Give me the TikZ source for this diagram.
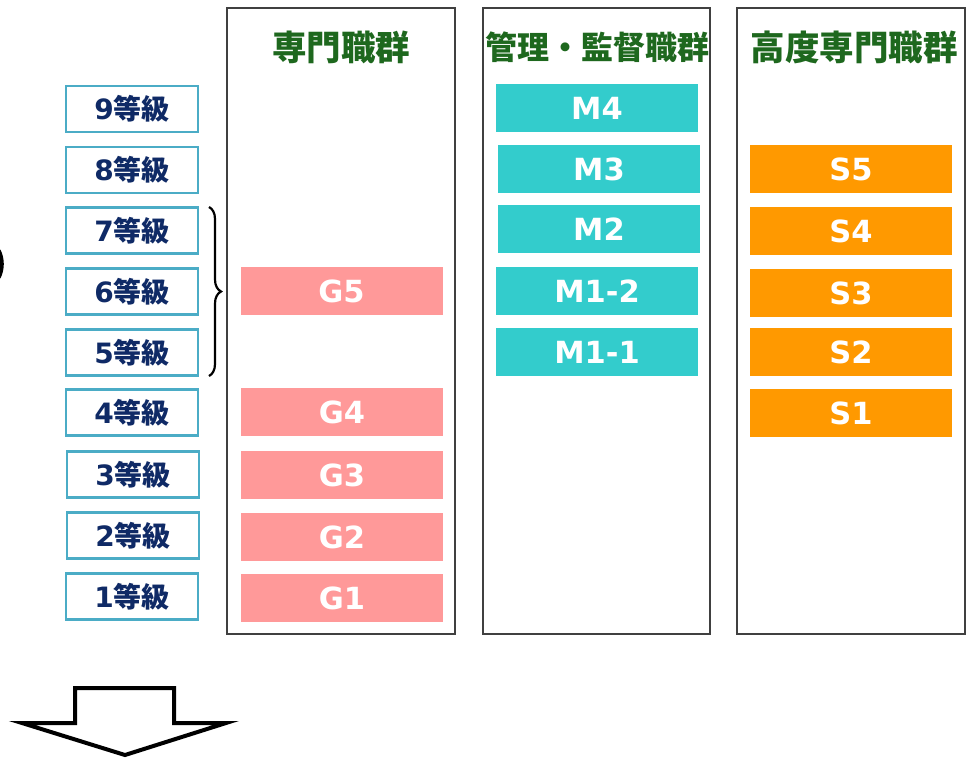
\documentclass[tikz,border=0pt]{standalone}
\usepackage{fontspec}
\setmainfont{DejaVu Sans}
\newfontfamily\cjk{Noto Sans CJK JP}
\usetikzlibrary{decorations.pathreplacing}
\definecolor{gradeblue}{HTML}{4BACC6}
\definecolor{navy}{HTML}{0F2A66}
\definecolor{hdrgreen}{RGB}{30,104,30}
\definecolor{gpink}{HTML}{FF9999}
\definecolor{mteal}{HTML}{33CCCC}
\definecolor{sorange}{HTML}{FF9900}
\definecolor{frame}{HTML}{404040}
\tikzset{
  gradebox/.style={draw=gradeblue, line width=2.2pt, fill=white, minimum width=132pt, minimum height=46pt, inner sep=0pt,
    font=\fontsize{28}{28}\selectfont\bfseries, text=navy},
  colframe/.style={draw=frame, line width=1.3pt},
  hdr/.style={font=\cjk\fontsize{34.5}{34.5}\selectfont\bfseries, text=hdrgreen, inner sep=0pt},
  bar/.style={minimum width=202pt, minimum height=48pt, inner sep=0pt, text=white,
    font=\fontsize{30.5}{30.5}\selectfont\bfseries},
  gbar/.style={bar, fill=gpink},
  mbar/.style={bar, fill=mteal},
  sbar/.style={bar, fill=sorange},
}
\newcommand{\grd}[1]{#1{\cjk\bfseries 等級}}
\begin{document}
\begin{tikzpicture}[x=1pt,y=-1pt]
\useasboundingbox[fill=white] (0,0) rectangle (971,761);

% left partial shape
\draw[line width=3.6pt] (-29,264) ++(-26:31) arc[start angle=-26, end angle=26, radius=31];

% column frames
\draw[colframe] (227,8) rectangle (455,634);
\draw[colframe] (483,8) rectangle (710,634);
\draw[colframe] (737,8) rectangle (965,634);

% headers
\node[hdr] (h1) at (341,47) {専門職群};
\node[hdr, font=\cjk\fontsize{32}{32}\selectfont\bfseries] (h2) at (597,47) {管理・監督職群};
\node[hdr] (h3) at (854,47) {高度専門職群};

% grades
\node[gradebox] (g9) at (132,109) {\grd{9}};
\node[gradebox] (g8) at (132,170) {\grd{8}};
\node[gradebox] (g7) at (132,230.5) {\grd{7}};
\node[gradebox] (g6) at (132,291.5) {\grd{6}};
\node[gradebox] (g5) at (132,352.5) {\grd{5}};
\node[gradebox] (g4) at (132,412.5) {\grd{4}};
\node[gradebox] (g3) at (133,474.5) {\grd{3}};
\node[gradebox] (g2) at (133,535.5) {\grd{2}};
\node[gradebox] (g1) at (132,596.5) {\grd{1}};

% brace
\coordinate (bt) at (209,207);
\coordinate (bb) at (209,376);
\draw[line width=2.2pt, decorate, decoration={brace, amplitude=12pt}] (bt) -- (bb);

% G bars
\node[gbar] (G5) at (341.5,291) {G5};
\node[gbar] (G4) at (342,412) {G4};
\node[gbar] (G3) at (342,475) {G3};
\node[gbar] (G2) at (342,537) {G2};
\node[gbar] (G1) at (342,598) {G1};

% M bars
\node[mbar] (M4) at (597,108) {M4};
\node[mbar] (M3) at (599,169) {M3};
\node[mbar] (M2) at (599,229) {M2};
\node[mbar] (M12) at (597,291) {M1-2};
\node[mbar] (M11) at (597,352) {M1-1};

% S bars
\node[sbar] (S5) at (851,169) {S5};
\node[sbar] (S4) at (851,231) {S4};
\node[sbar] (S3) at (851,293) {S3};
\node[sbar] (S2) at (851,352) {S2};
\node[sbar] (S1) at (851,413) {S1};

% bottom block arrow
\draw[line width=4pt, fill=white, line join=miter]
  (75,688) -- (174,688) -- (174,723) -- (226,723) -- (125,755) -- (22,723) -- (75,723) -- cycle;
\end{tikzpicture}
\end{document}
